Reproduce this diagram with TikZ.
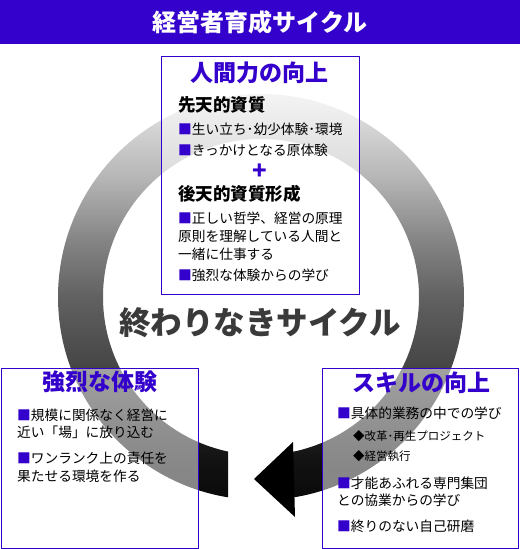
\documentclass[tikz,border=0pt]{standalone}
\usepackage{fontspec}
\setmainfont{Noto Sans CJK JP}
\definecolor{mainblue}{HTML}{3300CC}
\definecolor{bigtext}{HTML}{3A3A3A}
\pgfdeclareverticalshading{ringshade}{100bp}{color(0bp)=(black!96); color(25bp)=(black!96); color(30bp)=(black!93); color(35bp)=(black!85); color(42bp)=(black!72); color(50bp)=(black!62); color(57bp)=(black!48); color(65bp)=(black!28); color(75bp)=(black!9); color(100bp)=(black!9)}
\begin{document}
\begin{tikzpicture}[x=1pt,y=-1pt,
  panel/.style={draw=mainblue, line width=1pt, fill=white, fill opacity=0.5, anchor=north west, inner sep=0pt},
  txt/.style={anchor=west, inner sep=0pt, text height=0.88em, text depth=0.12em, font=\fontsize{13.7pt}{16pt}\selectfont},
  smalltxt/.style={txt, font=\fontsize{11.5pt}{14pt}\selectfont},
  head/.style={anchor=west, inner sep=0pt, text height=0.88em, text depth=0.12em, font=\fontsize{17.5pt}{20pt}\selectfont\bfseries},
  boxtitle/.style={inner sep=0pt, text height=0.88em, text depth=0.12em, text=mainblue, font=\fontsize{23pt}{26pt}\selectfont\bfseries}]
\useasboundingbox (0,0) rectangle (520,549);
% ring
\begin{scope}
  \clip (0,0) rectangle (228,549) (293,0) rectangle (520,549) (0,0) rectangle (520,400);
  \shade[shading=ringshade, even odd rule] (261,297) circle[radius=203pt] (261,297) circle[radius=158pt];
\end{scope}
\coordinate (tip) at (254,479);
\coordinate (bk1) at (293,442);
\coordinate (bk2) at (295,517);
\fill[black] (tip) -- (bk1) -- (bk2) -- cycle;
% title bar
\fill[mainblue] (0,0) rectangle (520,44);
\node (title) [inner sep=0pt, text=white, font=\fontsize{24pt}{26pt}\selectfont\bfseries] at (260,22) {経営者育成サイクル};
% panels
\node (topbox) [panel, minimum width=198pt, minimum height=238pt] at (161,56) {};
\node (leftbox) [panel, minimum width=197pt, minimum height=180pt] at (1,368) {};
\node (rightbox) [panel, minimum width=196pt, minimum height=180pt] at (322,368) {};
% top panel
\node (tt) [boxtitle] at (259,78) {人間力の向上};
\node (h1) [head] at (178,108) {先天的資質};
\node (a1) [txt] at (178,131) {\textcolor{mainblue}{■}生い立ち･幼少体験･環境};
\node (a2) [txt] at (178,152) {\textcolor{mainblue}{■}きっかけとなる原体験};
\node (plus) [inner sep=0pt, text=mainblue, font=\fontsize{24pt}{26pt}\selectfont\bfseries] at (260,172) {+};
\node (h2) [head] at (178,197) {後天的資質形成};
\node (b1) [txt] at (178,220) {\textcolor{mainblue}{■}正しい哲学、経営の原理};
\node (b2) [txt] at (178,238) {原則を理解している人間と};
\node (b3) [txt] at (178,256) {一緒に仕事する};
\node (b4) [txt] at (178,277) {\textcolor{mainblue}{■}強烈な体験からの学び};
% centre
\node (big) [inner sep=0pt, text=bigtext, font=\fontsize{31.5pt}{34pt}\selectfont\bfseries] at (260,323) {終わりなきサイクル};
% left panel
\node (lt) [boxtitle] at (100,387) {強烈な体験};
\node (c1) [txt] at (17,417) {\textcolor{mainblue}{■}規模に関係なく経営に};
\node (c2) [txt] at (17,434) {近い「場」に放り込む};
\node (c3) [txt] at (17,460) {\textcolor{mainblue}{■}ワンランク上の責任を};
\node (c4) [txt] at (17,478) {果たせる環境を作る};
% right panel
\node (rt) [boxtitle] at (421,388) {スキルの向上};
\node (d1) [txt] at (337,415) {\textcolor{mainblue}{■}具体的業務の中での学び};
\node (d2) [smalltxt] at (353,437) {◆改革･再生プロジェクト};
\node (d3) [smalltxt] at (353,457) {◆経営執行};
\node (d4) [txt] at (337,485) {\textcolor{mainblue}{■}才能あふれる専門集団};
\node (d5) [txt] at (337,502) {との協業からの学び};
\node (d6) [txt] at (337,528) {\textcolor{mainblue}{■}終りのない自己研磨};
\end{tikzpicture}
\end{document}
